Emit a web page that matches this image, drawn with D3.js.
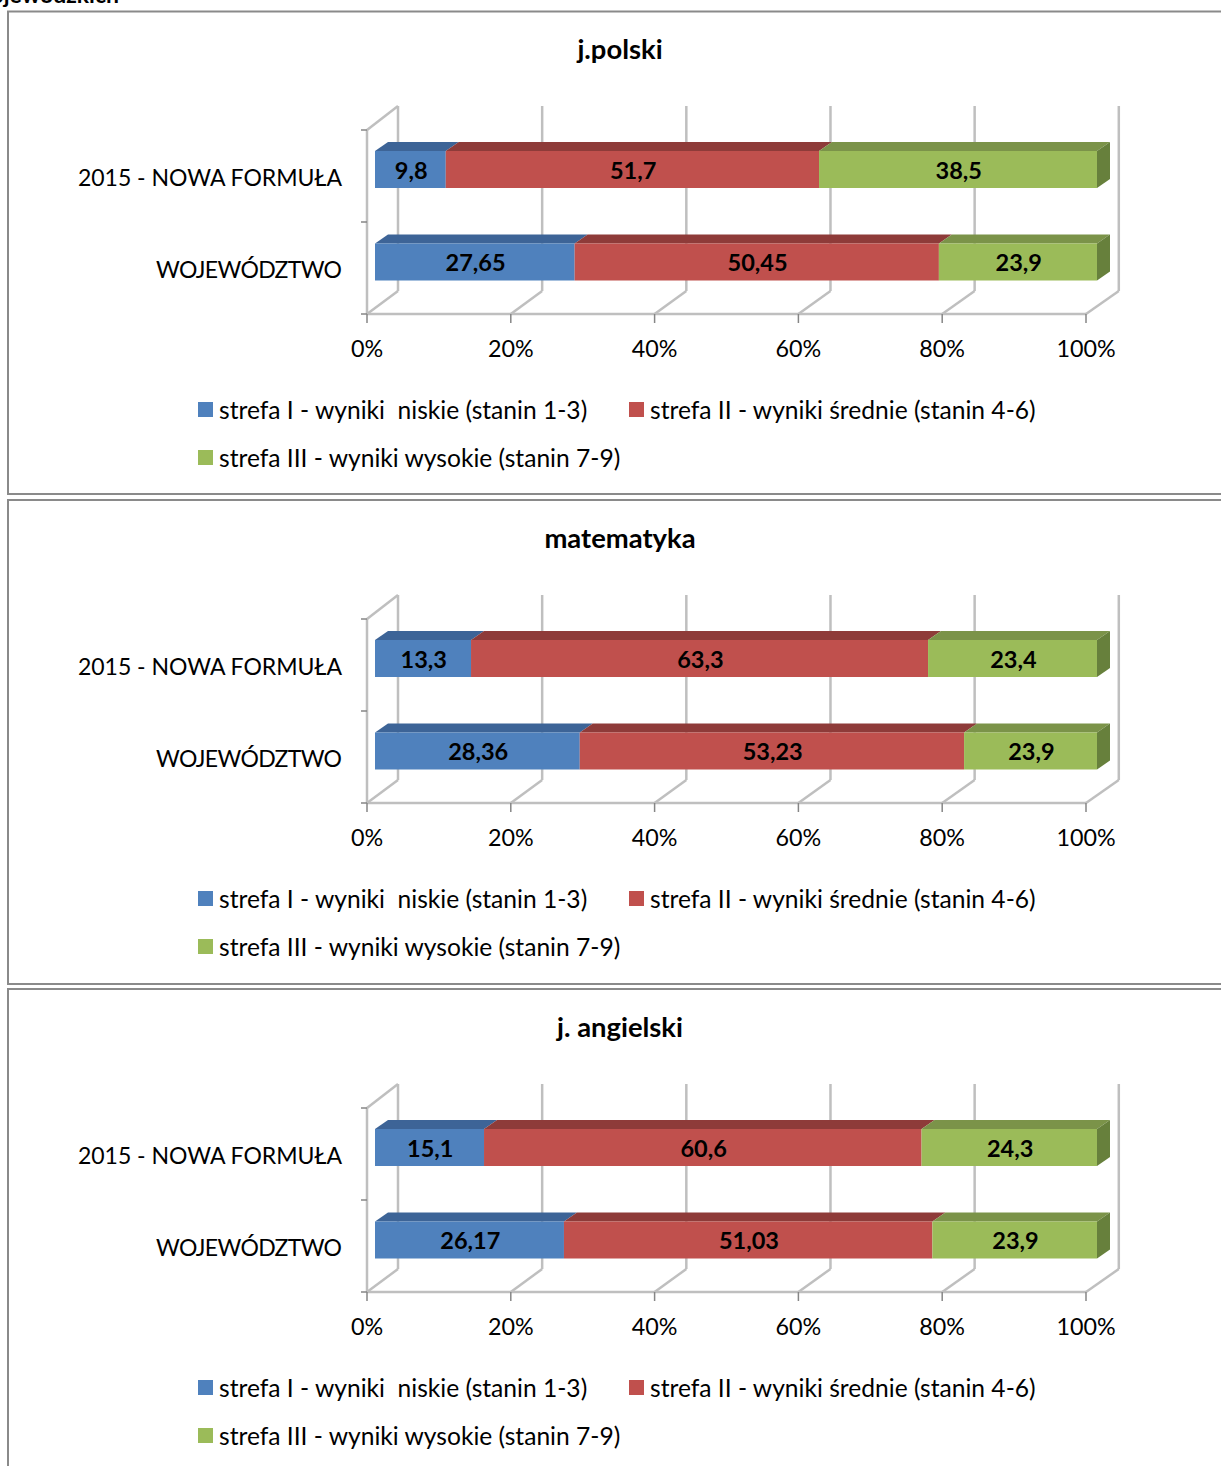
<!DOCTYPE html>
<html>
<head>
<meta charset="utf-8">
<script src="https://cdn.jsdelivr.net/npm/d3@7"></script>
<style>
body { margin: 0; background: #fff; }
svg { display: block; }
text { font-family: Lato, "Open Sans", sans-serif; fill: #000; white-space: pre; }
</style>
</head>
<body>
<div id="chart"></div>
<script>
var titles = ["j.polski", "matematyka", "j. angielski"];
var categories = ["2015 - NOWA FORMUŁA", "WOJEWÓDZTWO"];
var seriesNames = [
    "strefa I - wyniki  niskie (stanin 1-3)",
    "strefa II - wyniki średnie (stanin 4-6)",
    "strefa III - wyniki wysokie (stanin 7-9)"
];
var tickValues = [0, 20, 40, 60, 80, 100];

// bar lengths, one row per category
var polskiValues = [[9.8, 51.7, 38.5], [27.65, 50.45, 21.9]];
var matematykaValues = [[13.3, 63.3, 23.4], [28.36, 53.23, 18.41]];
var angielskiValues = [[15.1, 60.6, 24.3], [26.17, 51.03, 22.8]];

// the printed labels do not always equal the bar (woj. strefa III is always 23,9)
var polskiLabels = [["9,8", "51,7", "38,5"], ["27,65", "50,45", "23,9"]];
var matematykaLabels = [["13,3", "63,3", "23,4"], ["28,36", "53,23", "23,9"]];
var angielskiLabels = [["15,1", "60,6", "24,3"], ["26,17", "51,03", "23,9"]];

var allValues = [polskiValues, matematykaValues, angielskiValues];
var allLabels = [polskiLabels, matematykaLabels, angielskiLabels];

var colors = ["#4f81bd", "#c0504d", "#9bbb59"];
var topColors = ["#3d6497", "#8e3b39", "#7b9349"];
var sideColor = "#67803c";
var gridColor = "#bfbfbf";
var tickColor = "#868686";

var width = 1221, height = 1466;
var panelStep = 489;
var depthX = 13, depthY = 9;

var svg = d3.select("#chart").append("svg")
    .attr("width", width)
    .attr("height", height);

// cut off by the top of the page in the reference too
svg.append("text")
    .attr("x", 119)
    .attr("y", 3)
    .attr("text-anchor", "end")
    .attr("font-weight", "bold")
    .attr("font-size", 23)
    .text("wojewódzkich");

// three scales for the fake 3d: bar front, floor front, back wall
var xBar = d3.scaleLinear().domain([0, 100]).range([375, 1097]);
var xFloor = d3.scaleLinear().domain([0, 100]).range([367, 1086]);
var xBack = d3.scaleLinear().domain([0, 100]).range([398, 1118.8]);
var yBand = d3.scalePoint().domain(categories).range([151, 243.5]);
var barHeight = 37;
var categoryWidths = [264, 186];

var boxTops = [11.5, 500, 989];
var boxBottoms = [494, 984, 1480];

titles.forEach(function(title, p) {
    var g = svg.append("g")
        .attr("transform", "translate(0," + (p * panelStep) + ")");

    svg.append("rect")
        .attr("x", 8)
        .attr("y", boxTops[p])
        .attr("width", width)
        .attr("height", boxBottoms[p] - boxTops[p])
        .attr("fill", "none")
        .attr("stroke", "#8a8a8a")
        .attr("stroke-width", 2);

    g.append("text")
        .attr("x", 620)
        .attr("y", 58.7)
        .attr("text-anchor", "middle")
        .attr("font-weight", "bold")
        .attr("font-size", 27.4)
        .text(title);

    // walls and floor
    var grid = g.append("g")
        .attr("fill", "none")
        .attr("stroke", gridColor)
        .attr("stroke-width", 2.5);

    grid.selectAll(".back")
        .data(tickValues)
        .enter()
        .append("line")
        .attr("x1", function(d) { return xBack(d); })
        .attr("x2", function(d) { return xBack(d); })
        .attr("y1", 106)
        .attr("y2", 291);

    grid.selectAll(".diag")
        .data(tickValues)
        .enter()
        .append("line")
        .attr("x1", function(d) { return xFloor(d); })
        .attr("x2", function(d) { return xBack(d); })
        .attr("y1", 314)
        .attr("y2", 291);

    grid.append("line")
        .attr("x1", xFloor(0)).attr("x2", xFloor(100))
        .attr("y1", 314).attr("y2", 314);
    grid.append("line")
        .attr("x1", xFloor(0)).attr("x2", xFloor(0))
        .attr("y1", 130).attr("y2", 314);
    grid.append("line")
        .attr("x1", xFloor(0)).attr("x2", xBack(0))
        .attr("y1", 130).attr("y2", 106);

    // tick marks
    g.selectAll(".xtick")
        .data(tickValues)
        .enter()
        .append("line")
        .attr("x1", function(d) { return xFloor(d); })
        .attr("x2", function(d) { return xFloor(d); })
        .attr("y1", 314)
        .attr("y2", 323)
        .attr("stroke", tickColor)
        .attr("stroke-width", 1.5);

    g.selectAll(".ytick")
        .data([130, 222, 314])
        .enter()
        .append("line")
        .attr("x1", 361)
        .attr("x2", 367)
        .attr("y1", function(d) { return d; })
        .attr("y2", function(d) { return d; })
        .attr("stroke", tickColor)
        .attr("stroke-width", 1.5);

    g.selectAll(".xlabel")
        .data(tickValues)
        .enter()
        .append("text")
        .attr("x", function(d) { return xFloor(d); })
        .attr("y", 357)
        .attr("text-anchor", "middle")
        .attr("font-size", 23.3)
        .text(function(d) { return d + "%"; });

    g.selectAll(".ylabel")
        .data(categories)
        .enter()
        .append("text")
        .attr("x", 342)
        .attr("y", function(d, i) { return 186 + i * 92; })
        .attr("text-anchor", "end")
        .attr("font-size", 23)
        .attr("textLength", function(d, i) { return categoryWidths[i]; })
        .text(function(d) { return d; });

    // stacked bars
    categories.forEach(function(cat, c) {
        var y0 = yBand(cat);
        var cum = 0;
        var segs = allValues[p][c].map(function(v, s) {
            var seg = { s: s, start: cum, end: cum + v, label: allLabels[p][c][s] };
            cum += v;
            return seg;
        });

        var row = g.append("g");

        row.selectAll(".top")
            .data(segs)
            .enter()
            .append("path")
            .attr("fill", function(d) { return topColors[d.s]; })
            .attr("d", function(d) {
                var a = xBar(d.start), b = xBar(d.end);
                return "M" + a + "," + y0 + "L" + (a + depthX) + "," + (y0 - depthY) +
                    "L" + (b + depthX) + "," + (y0 - depthY) + "L" + b + "," + y0 + "Z";
            });

        row.append("path")
            .attr("fill", sideColor)
            .attr("d", function() {
                var b = xBar(100);
                return "M" + b + "," + y0 + "L" + (b + depthX) + "," + (y0 - depthY) +
                    "L" + (b + depthX) + "," + (y0 + barHeight - depthY) +
                    "L" + b + "," + (y0 + barHeight) + "Z";
            });

        row.selectAll(".front")
            .data(segs)
            .enter()
            .append("rect")
            .attr("x", function(d) { return xBar(d.start); })
            .attr("y", y0)
            .attr("width", function(d) { return xBar(d.end) - xBar(d.start); })
            .attr("height", barHeight)
            .attr("fill", function(d) { return colors[d.s]; });

        row.selectAll(".val")
            .data(segs)
            .enter()
            .append("text")
            .attr("x", function(d) { return (xBar(d.start) + xBar(d.end)) / 2 + 0.8; })
            .attr("y", y0 + 27.6)
            .attr("text-anchor", "middle")
            .attr("font-weight", "bold")
            .attr("font-size", 23.5)
            .text(function(d) { return d.label; });
    });

    // legend
    var legendPos = [[198, 402], [629, 402], [198, 450]];
    var legend = g.selectAll(".legend")
        .data(seriesNames)
        .enter()
        .append("g")
        .attr("transform", function(d, i) {
            return "translate(" + legendPos[i][0] + "," + legendPos[i][1] + ")";
        });

    legend.append("rect")
        .attr("width", 15)
        .attr("height", 15)
        .attr("fill", function(d, i) { return colors[i]; });

    legend.append("text")
        .attr("x", 21)
        .attr("y", 16.7)
        .attr("font-size", 24.6)
        .text(function(d) { return d; });
});
</script>
</body>
</html>
